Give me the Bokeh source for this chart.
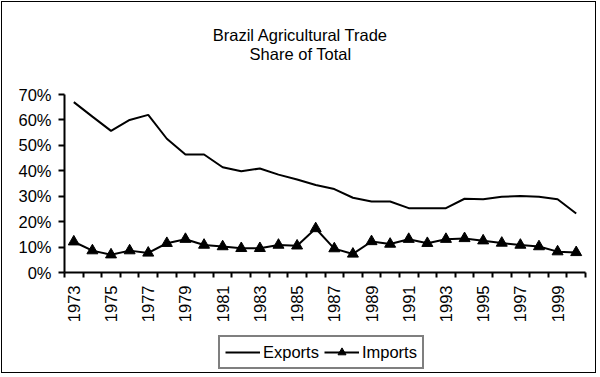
import math
from bokeh.plotting import figure
from bokeh.models import Range1d, FixedTicker, Legend, LegendItem, Label
from bokeh.embed import file_html
from bokeh.resources import INLINE

years = list(range(1973, 2001))
exports = [67.0, 61.3, 55.7, 60.0, 62.0, 52.6, 46.4, 46.4, 41.4, 39.8, 40.9, 38.5, 36.6, 34.4,
           32.8, 29.4, 27.9, 27.9, 25.3, 25.3, 25.3, 29.0, 28.8, 29.8, 30.1, 29.8, 28.8, 23.2]
imports = [12.1, 8.6, 7.0, 8.6, 7.7, 11.5, 13.1, 10.8, 10.2, 9.5, 9.5, 10.8, 10.5, 17.3,
           9.4, 7.3, 12.2, 11.2, 13.1, 11.5, 13.1, 13.4, 12.5, 11.6, 10.8, 10.2, 8.2, 7.9]
year_ticks = list(range(1973, 2000, 2))
pct_ticks = [0, 10, 20, 30, 40, 50, 60, 70]
pct_labels = ["0%", "10%", "20%", "30%", "40%", "50%", "60%", "70%"]
title_lines = ["Brazil Agricultural Trade", "Share of Total"]

FONT = "Liberation Sans"
FS = "16.5px"

W, H = 595, 372
X0, X1 = years[0] - 0.5, years[-1] + 0.5      # category axis span
Y0, Y1 = 0, 70                                 # value axis span
# plot area placement inside the canvas (pixels): left, right, top, bottom
PL, PR, PT, PB = 62, 583, 92, 270
xs = (X1 - X0) / (PR - PL)
ys = (Y1 - Y0) / (PB - PT)
x_range = Range1d(X0 - PL * xs, X1 + (W - PR) * xs)
y_range = Range1d(Y0 - (H - PB) * ys, Y1 + PT * ys)

p = figure(width=W, height=H, output_backend="svg", toolbar_location=None,
           x_range=x_range, y_range=y_range,
           min_border=0, outline_line_color=None,
           background_fill_color="white", border_fill_color="white")
p.styles = {"border": "1px solid black", "margin": "1px 0 0 1px"}
p.grid.visible = False

xc = X0 + (300 - 2 - PL) * xs
p.add_layout(Label(x=xc, y=Y1 + (PT - 32) * ys, text=title_lines[0], text_align="center",
                   text_baseline="alphabetic", text_font=FONT, text_font_size=FS, text_color="black"))
p.add_layout(Label(x=xc, y=Y1 + (PT - 51) * ys, text=title_lines[1], text_align="center",
                   text_baseline="alphabetic", text_font=FONT, text_font_size=FS, text_color="black"))

r1 = p.line(years, exports, line_color="black", line_width=2)
r2 = p.line(years, imports, line_color="black", line_width=2)
r3 = p.scatter(years, imports, marker="triangle", size=11, fill_color="black", line_color="black")

xa = p.xaxis[0]
xa.fixed_location = Y0
xa.bounds = (X0, X1)
xa.ticker = FixedTicker(ticks=year_ticks, minor_ticks=[y - 0.5 for y in years] + [X1])
xa.major_label_orientation = math.pi / 2
xa.major_tick_out = 0
xa.major_tick_in = 0
xa.minor_tick_out = 5
xa.minor_tick_in = 0
xa.minor_tick_line_color = "black"
xa.minor_tick_line_width = 2
xa.axis_line_width = 2
xa.axis_line_color = "black"
xa.major_label_text_font = FONT
xa.major_label_text_font_size = FS
xa.major_label_text_color = "black"
xa.major_label_standoff = 8

ya = p.yaxis[0]
ya.fixed_location = X0
ya.bounds = (Y0, Y1)
ya.ticker = FixedTicker(ticks=pct_ticks, minor_ticks=[])
ya.major_label_overrides = {t: l for t, l in zip(pct_ticks, pct_labels)}
ya.major_tick_out = 6
ya.major_tick_in = 0
ya.major_tick_line_width = 2
ya.major_tick_line_color = "black"
ya.minor_tick_out = 0
ya.minor_tick_in = 0
ya.axis_line_width = 2
ya.axis_line_color = "black"
ya.major_label_text_font = FONT
ya.major_label_text_font_size = FS
ya.major_label_text_color = "black"
ya.major_label_standoff = 7

legend = Legend(items=[LegendItem(label="Exports", renderers=[r1]),
                       LegendItem(label="Imports", renderers=[r2, r3])],
                orientation="horizontal", location=(216, 5),
                label_text_font=FONT, label_text_font_size=FS, label_text_color="black",
                glyph_width=35, glyph_height=20, label_standoff=3, spacing=5, padding=5,
                border_line_color="black", border_line_width=2, margin=0,
                background_fill_alpha=1)
p.add_layout(legend, "center")

open("out.html", "w").write(file_html(p, INLINE))
